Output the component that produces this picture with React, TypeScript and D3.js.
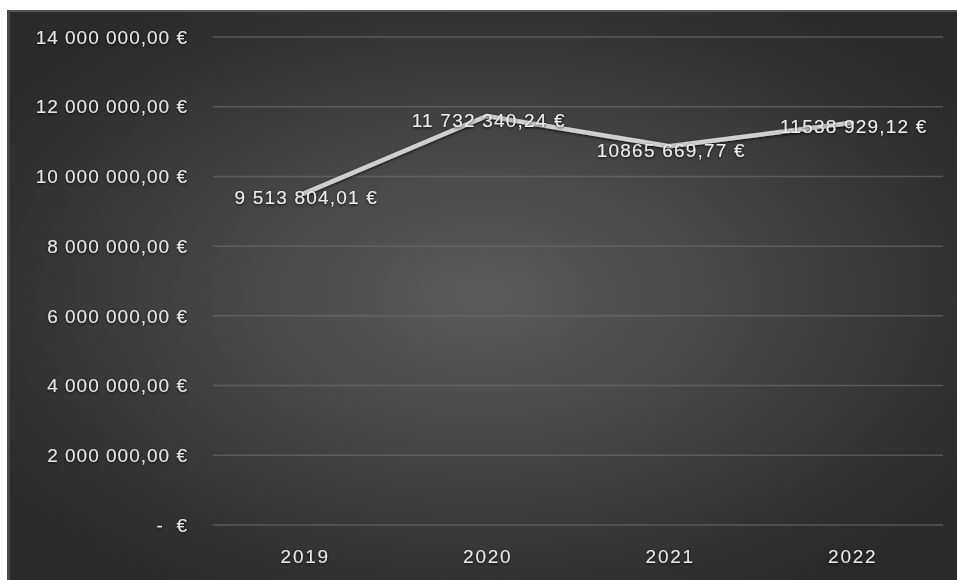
import React, { useEffect, useRef } from "react";
import * as d3 from "d3";

const categories = ["2019", "2020", "2021", "2022"];
const values = [9513804.01, 11732340.24, 10865669.77, 11538929.12];
const valueLabels = ["9 513 804,01 €", "11 732 340,24 €", "10865 669,77 €", "11538 929,12 €"];
const yTicks = [0, 2000000, 4000000, 6000000, 8000000, 10000000, 12000000, 14000000];
const yTickLabels = ["-\u00a0\u00a0€", "2 000 000,00 €", "4 000 000,00 €", "6 000 000,00 €", "8 000 000,00 €", "10 000 000,00 €", "12 000 000,00 €", "14 000 000,00 €"];

const W = 957;
const H = 580;

export default function App() {
  const ref = useRef<SVGSVGElement>(null);

  useEffect(() => {
    document.body.style.margin = "0";
    const svg = d3.select(ref.current);
    svg.selectAll("*").remove();

    const defs = svg.append("defs");
    const grad = defs
      .append("radialGradient")
      .attr("id", "bg")
      .attr("cx", "50%")
      .attr("cy", "50%")
      .attr("r", "60%");
    grad.append("stop").attr("offset", "0%").attr("stop-color", "#5c5c5c");
    grad.append("stop").attr("offset", "100%").attr("stop-color", "#2a2a2a");

    const glow = defs.append("filter").attr("id", "glow").attr("x", "-20%").attr("y", "-50%").attr("width", "140%").attr("height", "200%");
    glow.append("feGaussianBlur").attr("in", "SourceAlpha").attr("stdDeviation", 1.5).attr("result", "b");
    glow.append("feOffset").attr("in", "b").attr("dx", 0).attr("dy", 1).attr("result", "o");
    glow.append("feComponentTransfer").attr("in", "o").attr("result", "s")
      .append("feFuncA").attr("type", "linear").attr("slope", 0.8);
    const m = glow.append("feMerge");
    m.append("feMergeNode").attr("in", "s");
    m.append("feMergeNode").attr("in", "SourceGraphic");

    svg.append("rect").attr("width", W).attr("height", H).attr("fill", "#ffffff");
    svg.append("rect").attr("x", 7).attr("y", 10).attr("width", W - 7).attr("height", H - 10).attr("fill", "url(#bg)");
    svg.append("rect").attr("x", 7).attr("y", 10).attr("width", W - 7).attr("height", 2).attr("fill", "#555");
    svg.append("rect").attr("x", 7).attr("y", 10).attr("width", 3).attr("height", H - 10).attr("fill", "#474747");

    const left = 213;
    const right = 943;
    const top = 37;
    const bottom = 525;

    const x = d3.scaleBand<string>().domain(categories).range([left, right]);
    const y = d3.scaleLinear().domain([0, 14000000]).range([bottom, top]);

    const font = "'Liberation Sans', Arial, sans-serif";

    const grid = svg.append("g");
    yTicks.forEach((t, i) => {
      grid
        .append("line")
        .attr("x1", left)
        .attr("x2", right)
        .attr("y1", y(t))
        .attr("y2", y(t))
        .attr("stroke", "#707070")
        .attr("stroke-opacity", 0.6)
        .attr("stroke-width", 1.5);
      svg
        .append("text")
        .attr("x", 188)
        .attr("y", y(t))
        .attr("dy", "0.35em")
        .attr("text-anchor", "end")
        .attr("fill", "#e6e6e6")
        .attr("font-family", font)
        .attr("font-size", 19)
        .attr("letter-spacing", 1.0)
        .attr("filter", "url(#glow)")
        .text(yTickLabels[i]);
    });

    categories.forEach((c) => {
      svg
        .append("text")
        .attr("x", x(c)! + x.bandwidth() / 2 + 1)
        .attr("y", 556)
        .attr("dy", "0.35em")
        .attr("text-anchor", "middle")
        .attr("fill", "#e6e6e6")
        .attr("font-family", font)
        .attr("font-size", 19)
        .attr("letter-spacing", 1.8)
        .attr("filter", "url(#glow)")
        .text(c);
    });

    const line = d3
      .line<number>()
      .x((_, i) => x(categories[i])! + x.bandwidth() / 2)
      .y((d) => y(d));

    svg
      .append("path")
      .datum(values)
      .attr("d", line)
      .attr("fill", "none")
      .attr("stroke", "#cfcfcf")
      .attr("stroke-width", 4.5)
      .attr("stroke-linejoin", "round")
      .attr("stroke-linecap", "round")
      .attr("filter", "url(#glow)");

    values.forEach((v, i) => {
      svg
        .append("text")
        .attr("x", x(categories[i])! + x.bandwidth() / 2 + 2)
        .attr("y", y(v) + 4)
        .attr("dy", "0.35em")
        .attr("text-anchor", "middle")
        .attr("fill", "#ececec")
        .attr("font-family", font)
        .attr("font-size", 19)
        .attr("letter-spacing", 1.2)
        .attr("filter", "url(#glow)")
        .text(valueLabels[i]);
    });
  }, []);

  return <svg ref={ref} width={W} height={H} style={{ display: "block" }} />;
}
